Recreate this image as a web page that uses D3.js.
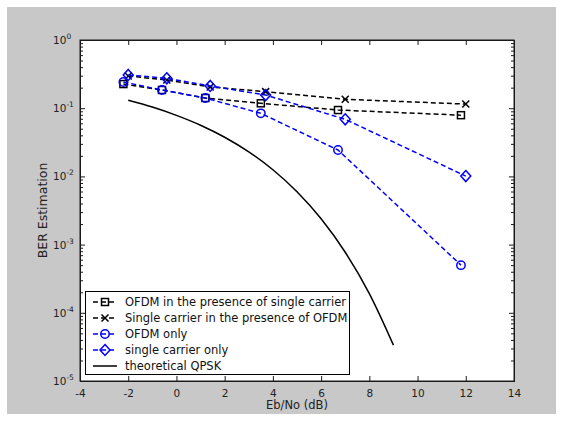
<!DOCTYPE html>
<html>
<head>
<meta charset="utf-8">
<script src="https://cdn.jsdelivr.net/npm/d3@7"></script>
<style>
  html, body { margin: 0; padding: 0; background: #ffffff; }
  svg { display: block; font-family: "DejaVu Sans", Arial, Helvetica, sans-serif; }
</style>
</head>
<body>
<svg id="chart" width="563" height="423"></svg>
<script>
// ---------------- data ----------------
const xTicks = [-4, -2, 0, 2, 4, 6, 8, 10, 12, 14];
const yExponents = [0, -1, -2, -3, -4, -5];

const ofdmSnr = [-2.2, -0.6, 1.2, 3.5, 6.7, 11.8];
const scSnr   = [-2.0, -0.4, 1.4, 3.7, 7.0, 12.0];

const ofdmWithSc = [0.226, 0.185, 0.141, 0.118, 0.094, 0.079];
const scWithOfdm = [0.297, 0.259, 0.205, 0.175, 0.135, 0.115];
const ofdmOnly   = [0.242, 0.185, 0.141, 0.084, 0.0244, 0.0005];
const scOnly     = [0.307, 0.274, 0.212, 0.156, 0.0687, 0.0101];

const qpskSnr = [-2, -1, 0, 1, 2, 3, 4, 5, 6, 7, 8, 9];
const qpskBer = [0.131, 0.104, 0.0786, 0.0563, 0.0375, 0.0229, 0.0125, 0.00595, 0.00239, 0.000773, 0.000191, 0.0000336];

const legendLabels = [
  "OFDM in the presence of single carrier",
  "Single carrier in the presence of OFDM",
  "OFDM only",
  "single carrier only",
  "theoretical QPSK"
];

// ---------------- layout ----------------
const svg = d3.select("#chart");
const L = 80, R = 514, T = 40, B = 381;
const FONT = "'DejaVu Sans', Arial, sans-serif";

svg.append("rect").attr("x", 7).attr("y", 7).attr("width", 549).attr("height", 407).attr("fill", "#c8c8c8");
svg.append("rect").attr("x", L).attr("y", T).attr("width", R - L).attr("height", B - T).attr("fill", "#ffffff");

const x = d3.scaleLinear().domain([-4, 14]).range([L, R]);
const y = d3.scaleLog().domain([1e-5, 1]).range([B, T]);

// ---------------- axes ----------------
const axisColor = "#1a1a1a";
const gx = svg.append("g").attr("transform", `translate(0,${B})`)
  .call(d3.axisBottom(x).tickValues(xTicks).tickSize(-5).tickPadding(9).tickFormat(d => String(d)));
const gxTop = svg.append("g").attr("transform", `translate(0,${T})`)
  .call(d3.axisTop(x).tickValues(xTicks).tickSize(-5).tickFormat(""));

const minorVals = [];
for (let e = -5; e < 0; e++) for (let m = 2; m <= 9; m++) minorVals.push(m * Math.pow(10, e));
const majorVals = yExponents.map(e => Math.pow(10, e));

const gy = svg.append("g").attr("transform", `translate(${L},0)`)
  .call(d3.axisLeft(y).tickValues(majorVals).tickSize(-5).tickPadding(0).tickFormat(""));
const gyMinor = svg.append("g").attr("transform", `translate(${L},0)`)
  .call(d3.axisLeft(y).tickValues(minorVals).tickSize(-3).tickFormat(""));
const gyR = svg.append("g").attr("transform", `translate(${R},0)`)
  .call(d3.axisRight(y).tickValues(majorVals).tickSize(-5).tickFormat(""));
const gyRMinor = svg.append("g").attr("transform", `translate(${R},0)`)
  .call(d3.axisRight(y).tickValues(minorVals).tickSize(-3).tickFormat(""));

[gx, gxTop, gy, gyMinor, gyR, gyRMinor].forEach(g => {
  g.select(".domain").attr("stroke", axisColor);
  g.selectAll(".tick line").attr("stroke", axisColor);
  g.selectAll("text").attr("fill", "#222").style("font-size", "10.5px").style("font-family", FONT);
});

// y tick labels with superscript exponents
yExponents.forEach(e => {
  const t = svg.append("text")
    .attr("x", 53).attr("y", y(Math.pow(10, e)) + 4)
    .attr("fill", "#222").style("font-size", "10.5px").style("font-family", FONT);
  t.append("tspan").text("10");
  t.append("tspan").attr("dy", -5).style("font-size", "7.5px").text(e === 0 ? "0" : "-" + Math.abs(e));
});

// plot box
svg.append("rect").attr("x", L).attr("y", T).attr("width", R - L).attr("height", B - T)
  .attr("fill", "none").attr("stroke", axisColor).attr("stroke-width", 1);

// axis labels
svg.append("text").attr("x", (L + R) / 2).attr("y", 409).attr("text-anchor", "middle")
  .attr("fill", "#222").style("font-size", "11.5px").style("font-family", FONT).text("Eb/No (dB)");
svg.append("text").attr("transform", `translate(47,${(T + B) / 2}) rotate(-90)`)
  .attr("text-anchor", "middle").attr("fill", "#222").style("font-size", "12.5px").style("font-family", FONT)
  .text("BER Estimation");

// ---------------- series ----------------
const plot = svg.append("g");
const line = d3.line().x(d => x(d[0])).y(d => y(d[1]));
const smooth = d3.line().x(d => x(d[0])).y(d => y(d[1])).curve(d3.curveMonotoneX);

function marker(g, type, cx, cy, color) {
  if (type === "square") {
    g.append("rect").attr("x", cx - 3.5).attr("y", cy - 3.5).attr("width", 7).attr("height", 7)
      .attr("fill", "none").attr("stroke", color).attr("stroke-width", 1.5);
  } else if (type === "cross") {
    g.append("path").attr("d", `M${cx - 3.5},${cy - 3.5}L${cx + 3.5},${cy + 3.5}M${cx - 3.5},${cy + 3.5}L${cx + 3.5},${cy - 3.5}`)
      .attr("stroke", color).attr("stroke-width", 1.5);
  } else if (type === "circle") {
    g.append("circle").attr("cx", cx).attr("cy", cy).attr("r", 4.2)
      .attr("fill", "none").attr("stroke", color).attr("stroke-width", 1.5);
  } else if (type === "diamond") {
    g.append("path").attr("d", `M${cx},${cy - 5.5}L${cx + 5},${cy}L${cx},${cy + 5.5}L${cx - 5},${cy}Z`)
      .attr("fill", "none").attr("stroke", color).attr("stroke-width", 1.5);
  }
}

const series = [
  { xs: ofdmSnr, ys: ofdmWithSc, color: "#000000", marker: "square", dash: "5,3" },
  { xs: scSnr,   ys: scWithOfdm, color: "#000000", marker: "cross",  dash: "5,3" },
  { xs: ofdmSnr, ys: ofdmOnly,   color: "#0000ff", marker: "circle", dash: "5,3" },
  { xs: scSnr,   ys: scOnly,     color: "#0000ff", marker: "diamond", dash: "5,3" },
];

series.forEach(s => {
  const pts = s.xs.map((v, i) => [v, s.ys[i]]);
  plot.append("path").attr("d", line(pts)).attr("fill", "none")
    .attr("stroke", s.color).attr("stroke-width", 1.5).attr("stroke-dasharray", s.dash);
  pts.forEach(p => marker(plot, s.marker, x(p[0]), y(p[1]), s.color));
});

plot.append("path").attr("d", smooth(qpskSnr.map((v, i) => [v, qpskBer[i]])))
  .attr("fill", "none").attr("stroke", "#000").attr("stroke-width", 1.5);

// ---------------- legend ----------------
const lg = svg.append("g");
lg.append("rect").attr("x", 85.5).attr("y", 291.5).attr("width", 264).attr("height", 83)
  .attr("fill", "#ffffff").attr("stroke", "#000").attr("stroke-width", 1);
const legendStyles = [
  { color: "#000", marker: "square", dash: "5,3" },
  { color: "#000", marker: "cross", dash: "5,3" },
  { color: "#0000ff", marker: "circle", dash: "5,3" },
  { color: "#0000ff", marker: "diamond", dash: "5,3" },
  { color: "#000", marker: null, dash: null },
];
legendLabels.forEach((lab, i) => {
  const cy = 302 + i * 16;
  const st = legendStyles[i];
  const ln = lg.append("line").attr("x1", 93).attr("x2", 117).attr("y1", cy).attr("y2", cy)
    .attr("stroke", st.color).attr("stroke-width", 1.5);
  if (st.dash) ln.attr("stroke-dasharray", st.dash);
  if (st.marker) marker(lg, st.marker, 105, cy, st.color);
  lg.append("text").attr("x", 125).attr("y", cy + 4).attr("fill", "#111")
    .style("font-size", "11.5px").style("font-family", FONT).text(lab);
});
</script>
</body>
</html>
